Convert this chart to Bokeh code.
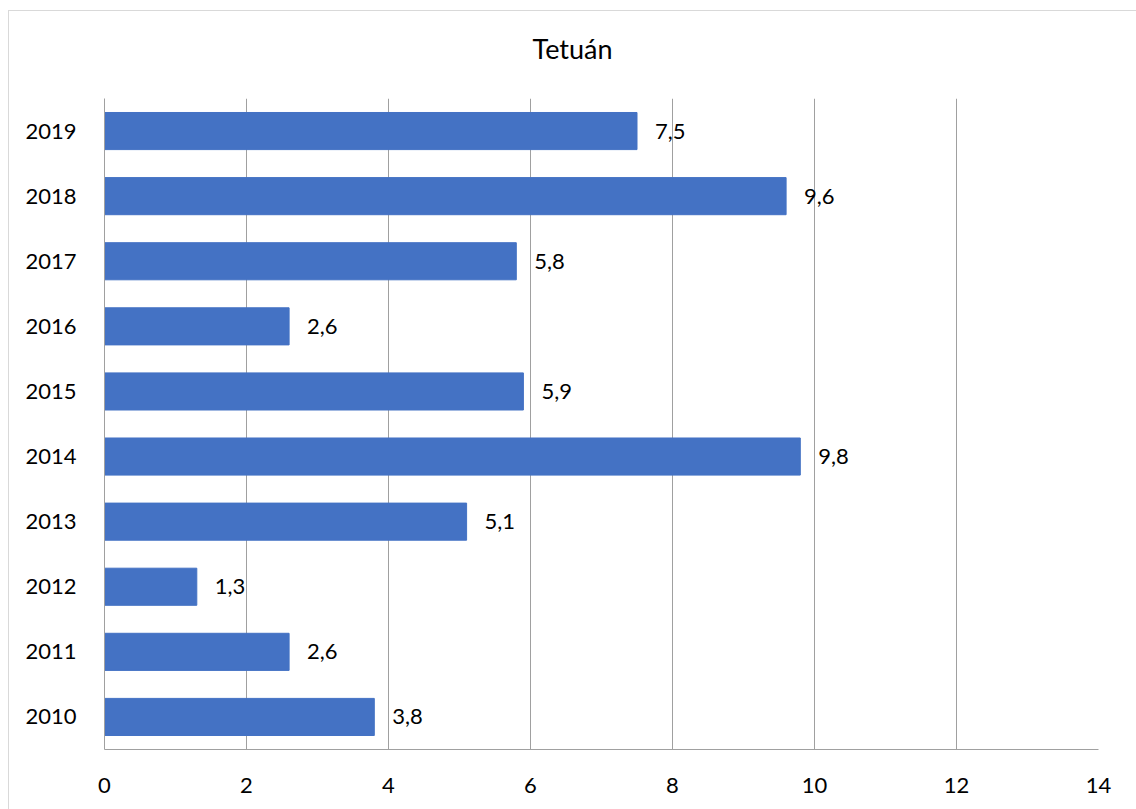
from bokeh.plotting import figure
from bokeh.models import ColumnDataSource, FactorRange, Range1d, FixedTicker, Div
from bokeh.layouts import column
from bokeh.core.properties import value
from bokeh.embed import file_html
from bokeh.resources import INLINE

years = ["2010", "2011", "2012", "2013", "2014", "2015", "2016", "2017", "2018", "2019"]
values = [3.8, 2.6, 1.3, 5.1, 9.8, 5.9, 2.6, 5.8, 9.6, 7.5]
labels = [f"{v:.1f}".replace(".", ",") for v in values]
x_ticks = [0, 2, 4, 6, 8, 10, 12, 14]
title_text = "Tetuán"

FONT = "Lato"
GRID = "#A0A0A0"

src = ColumnDataSource(dict(year=years, val=values, lab=labels))

title_div = Div(
    text=('<div style="width:1127px; text-align:center; padding-top:22px; '
          'font-family:Lato; font-size:27px; line-height:32px; color:#000000;">'
          + title_text + '</div>'),
    width=1127, height=60, margin=0,
)

p = figure(
    width=1127, height=738,
    y_range=FactorRange(factors=years, range_padding=0),
    x_range=Range1d(0, 14),
    output_backend="svg", toolbar_location=None,
    min_border_left=95, min_border_right=38, min_border_top=27, min_border_bottom=60,
)
p.outline_line_color = None

p.hbar(y="year", right="val", left=0, height=0.57, source=src,
       fill_color="#4472C4", line_color="#4472C4")

p.text(x="val", y="year", text="lab", source=src, x_offset=18,
       text_align="left", text_baseline="middle",
       text_font=value(FONT), text_font_size="22px", text_color="#000000")

p.xaxis.ticker = FixedTicker(ticks=x_ticks)
p.xgrid.ticker = FixedTicker(ticks=x_ticks)
p.xgrid.grid_line_color = GRID
p.ygrid.grid_line_color = None

for ax in (p.xaxis[0], p.yaxis[0]):
    ax.axis_line_color = GRID
    ax.major_tick_line_color = None
    ax.minor_tick_line_color = None
    ax.major_label_text_font = FONT
    ax.major_label_text_font_size = "22px"
    ax.major_label_text_color = "#000000"
p.xaxis.major_label_standoff = 22
p.yaxis.major_label_standoff = 22
p.yaxis.group_text_font_size = "0px"

layout = column(title_div, p, spacing=0)
layout.styles = {"border-left": "1px solid #D9D9D9", "border-top": "1px solid #D9D9D9",
                 "margin-left": "8px", "margin-top": "10px"}

open("out.html", "w").write(file_html(layout, INLINE))
